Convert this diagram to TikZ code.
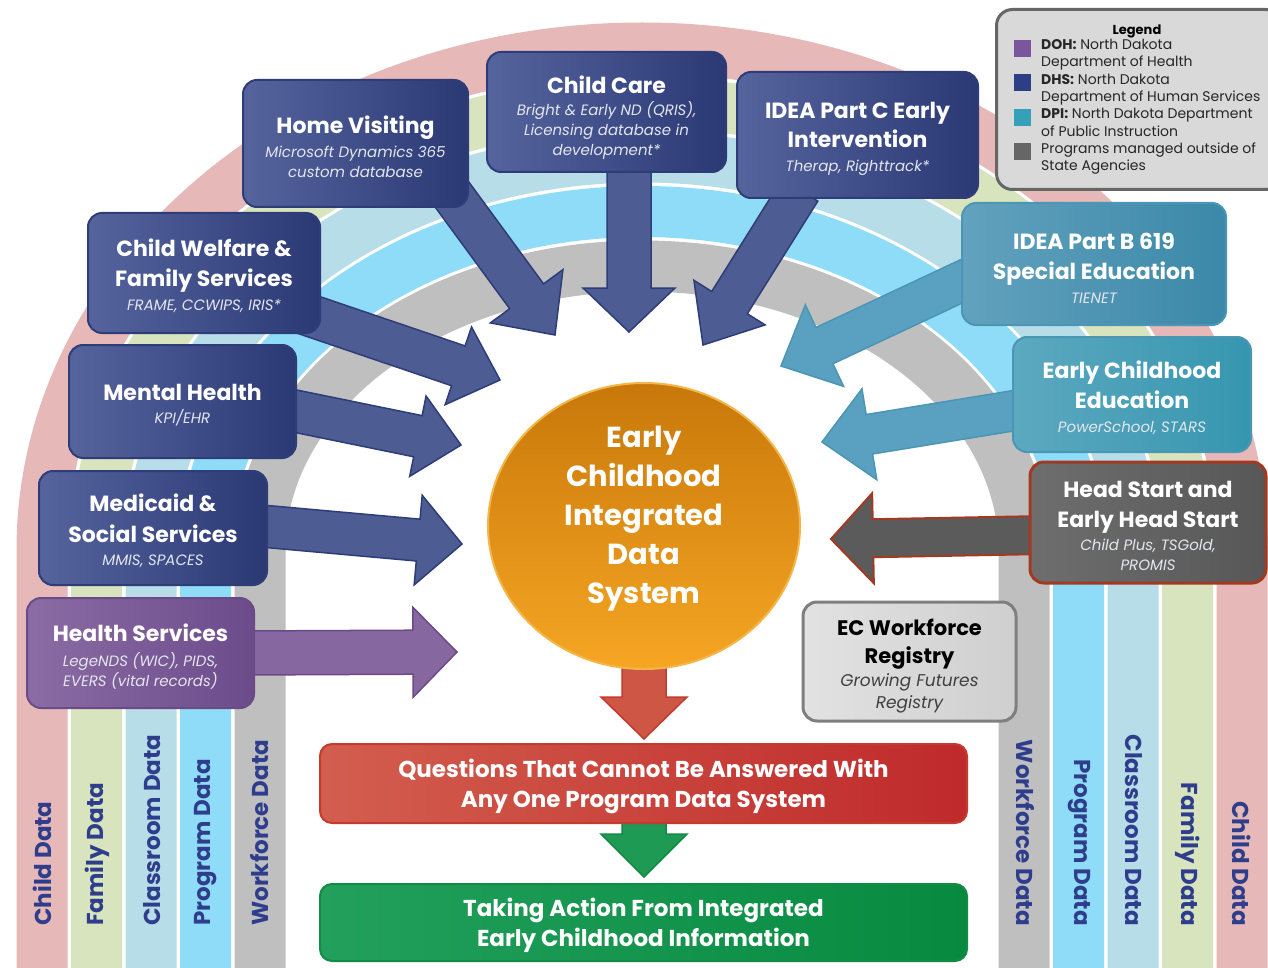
\documentclass[tikz,border=0pt]{standalone}
\usepackage{fontspec}
\setmainfont{Poppins}
\usetikzlibrary{calc,shapes.geometric}
\definecolor{navyL}{HTML}{56649E}
\definecolor{navyR}{HTML}{2A3974}
\definecolor{navyD}{HTML}{2E3C78}
\definecolor{navyA}{HTML}{4E5C94}
\definecolor{tealL}{HTML}{62A2BE}
\definecolor{tealR}{HTML}{3B88A8}
\definecolor{teal2L}{HTML}{5CA9C0}
\definecolor{teal2R}{HTML}{3696AF}
\definecolor{tealD}{HTML}{4B96B4}
\definecolor{tealA}{HTML}{5AA0C0}
\definecolor{purL}{HTML}{8B6CA4}
\definecolor{purR}{HTML}{6C4B8B}
\definecolor{purA}{HTML}{8767A0}
\definecolor{purD}{HTML}{6A4B88}
\definecolor{greyL}{HTML}{6E6E6E}
\definecolor{greyR}{HTML}{575757}
\definecolor{hsborder}{HTML}{A23A22}
\definecolor{hsA}{HTML}{5B5B5B}
\definecolor{lgreyL}{HTML}{E2E2E2}
\definecolor{lgreyR}{HTML}{CFCFCF}
\definecolor{lgreyD}{HTML}{7F7F7F}
\definecolor{orT}{HTML}{C8780A}
\definecolor{orB}{HTML}{F6A623}
\definecolor{orD}{HTML}{F2B64A}
\definecolor{redL}{HTML}{D35E4E}
\definecolor{redR}{HTML}{BF2A2B}
\definecolor{redA}{HTML}{CD5645}
\definecolor{redD}{HTML}{C43A2E}
\definecolor{grnL}{HTML}{22A05C}
\definecolor{grnR}{HTML}{078A40}
\definecolor{grnA}{HTML}{1E9A55}
\definecolor{grnD}{HTML}{138A45}
\definecolor{pinkb}{HTML}{E6B8B7}
\definecolor{greenb}{HTML}{D8E4BE}
\definecolor{lblueb}{HTML}{B7DDE8}
\definecolor{cyanb}{HTML}{8FDCF9}
\definecolor{greyb}{HTML}{BFBFBF}
\definecolor{lbltxt}{HTML}{2F3E8C}
\definecolor{subw}{HTML}{E4E6EE}
\definecolor{legfill}{HTML}{D9D9D9}
\definecolor{legdraw}{HTML}{666666}
\definecolor{dohc}{HTML}{7B569C}
\definecolor{dhsc}{HTML}{2D3E86}
\definecolor{dpic}{HTML}{36A0B9}
\definecolor{othc}{HTML}{666666}
\newcommand\bxup{\rule{0pt}{24pt}}
\newcommand\bxT{\fontsize{22}{20}\selectfont\bfseries\bxup}
\newcommand\bxTT{\fontsize{22}{20}\selectfont\bfseries}
\newcommand\bxS{\fontsize{15}{20}\selectfont\itshape\color{subw}}
\newcommand\ecT{\fontsize{21}{22}\selectfont\bfseries}
\newcommand\ecS{\fontsize{17}{22}\selectfont\itshape\color{black!75}}
\newcommand\lgT{\fontsize{14}{17.3}\selectfont}
\newcommand\blockarr[6]{%
  \coordinate (tmpH) at ($(#3)!#6!(#2)$);
  \filldraw[#1] ($(#2)!#4!90:(#3)$) -- ($(tmpH)!#4!90:(#3)$) -- ($(tmpH)!#5!90:(#3)$) -- (#3)
    -- ($(tmpH)!#5!-90:(#3)$) -- ($(tmpH)!#4!-90:(#3)$) -- ($(#2)!#4!-90:(#3)$) -- cycle;}
\tikzset{
  band/.style={line width=51pt},
  bandlbl/.style={text=lbltxt, font=\fontsize{23}{26}\selectfont\bfseries, inner sep=0pt},
  box/.style={rounded corners=14pt, line width=2pt, inner sep=0pt, align=center,
    font={\fontsize{15}{20}\selectfont\lineskiplimit=-50pt}},
  navybox/.style={box, draw=navyD, left color=navyL, right color=navyR, text=white},
  tealbox/.style={box, draw=tealD, left color=tealL, right color=tealR, text=white},
  teal2box/.style={box, draw=tealD, left color=teal2L, right color=teal2R, text=white},
  purbox/.style={box, draw=purD, left color=purL, right color=purR, text=white},
  hsbox/.style={box, draw=hsborder, line width=3pt, left color=greyL, right color=greyR, text=white},
  ecwbox/.style={box, draw=lgreyD, line width=3pt, left color=lgreyL, right color=lgreyR, text=black,
    font={\fontsize{17}{22}\selectfont\lineskiplimit=-50pt}},
  navyarr/.style={fill=navyA, draw=navyD, line width=1.5pt, line join=miter},
  tealarr/.style={fill=tealA, draw=tealD, line width=1.5pt},
  purarr/.style={fill=purA, draw=purD, line width=1.5pt},
  hsarr/.style={fill=hsA, draw=hsborder, line width=2pt},
  redarr/.style={fill=redA, draw=redD, line width=1.5pt},
  grnarr/.style={fill=grnA, draw=grnD, line width=1.5pt},
  wide/.style={box, rounded corners=12pt, line width=2pt, text=white, font=\fontsize{23}{30}\selectfont\bfseries},
}
\begin{document}
\begin{tikzpicture}[x=1pt,y=-1pt]
\useasboundingbox (0,0) rectangle (1268,968);
\fill[white] (0,0) rectangle (1268,968);
% rainbow bands
\foreach \k/\col in {0/pinkb,1/greenb,2/lblueb,3/cyanb,4/greyb} {
  \pgfmathsetmacro\ra{600-54.5*\k}
  \pgfmathsetmacro\rb{502-54.5*\k}
  \draw[band, draw=\col] (642-\ra,975) -- (642-\ra,550)
     arc[start angle=180, end angle=0, x radius=\ra pt, y radius=\rb pt] -- (642+\ra,975);
}
% band labels
\node[bandlbl, rotate=90, anchor=west] (l1) at (42,926) {Child Data};
\node[bandlbl, rotate=90, anchor=west] (l2) at (97,926) {Family Data};
\node[bandlbl, rotate=90, anchor=west] (l3) at (152,926) {Classroom Data};
\node[bandlbl, rotate=90, anchor=west] (l4) at (206,926) {Program Data};
\node[bandlbl, rotate=90, anchor=west] (l5) at (260,926) {Workforce Data};
\node[bandlbl, rotate=-90, anchor=east] (r5) at (1025,926) {Workforce Data};
\node[bandlbl, rotate=-90, anchor=east] (r4) at (1079,926) {Program Data};
\node[bandlbl, rotate=-90, anchor=east] (r3) at (1134,926) {Classroom Data};
\node[bandlbl, rotate=-90, anchor=east] (r2) at (1188,926) {Family Data};
\node[bandlbl, rotate=-90, anchor=east] (r1) at (1242,926) {Child Data};
% arrow anchor coordinates
\coordinate (hvA) at (445,185);  \coordinate (hvB) at (555,335);
\coordinate (ccA) at (629,160);  \coordinate (ccB) at (629,332);
\coordinate (icA) at (800,190);  \coordinate (icB) at (703,345);
\coordinate (cwA) at (300,312);  \coordinate (cwB) at (500,380);
\coordinate (mhA) at (280,408);  \coordinate (mhB) at (461,445);
\coordinate (mdA) at (250,525);  \coordinate (mdB) at (462,544);
\coordinate (hsA) at (240,653);  \coordinate (hsB) at (457,652);
\coordinate (hdA) at (1045,535); \coordinate (hdB) at (831,539);
\coordinate (ecA) at (1030,408); \coordinate (ecB) at (822,442);
\coordinate (ibA) at (975,275);  \coordinate (ibB) at (781,366);
\coordinate (rdA) at (644,650);  \coordinate (rdB) at (644,739);
\coordinate (gnA) at (644,815);  \coordinate (gnB) at (644,877);
\blockarr{navyarr}{hvA}{hvB}{21pt}{45pt}{48pt}
\blockarr{navyarr}{ccA}{ccB}{22pt}{46pt}{44pt}
\blockarr{navyarr}{icA}{icB}{21pt}{42pt}{50pt}
\blockarr{navyarr}{cwA}{cwB}{21pt}{41pt}{44pt}
\blockarr{navyarr}{mhA}{mhB}{21pt}{41pt}{44pt}
\blockarr{navyarr}{mdA}{mdB}{21pt}{45pt}{44pt}
\blockarr{purarr}{hsA}{hsB}{22pt}{45pt}{44pt}
\blockarr{hsarr}{hdA}{hdB}{19pt}{45pt}{42pt}
\blockarr{tealarr}{ecA}{ecB}{20pt}{46pt}{48pt}
\blockarr{tealarr}{ibA}{ibB}{20pt}{45pt}{48pt}
\blockarr{redarr}{rdA}{rdB}{22pt}{43pt}{42pt}
\blockarr{grnarr}{gnA}{gnB}{22pt}{43pt}{43pt}
% boxes
\node[navybox, minimum width=225pt, minimum height=127pt] (hv) at (355.5,143.5)
  {\bxT Home Visiting\\[4pt]\bxS Microsoft Dynamics 365\\\bxS custom database};
\node[navybox, minimum width=239pt, minimum height=120pt] (cc) at (606.5,112)
  {\fontsize{22}{20}\selectfont\bfseries\rule{0pt}{28pt}Child Care\\[2pt]\bxS Bright \& Early ND (QRIS),\\\bxS Licensing database in\\\bxS development*};
\node[navybox, minimum width=241pt, minimum height=126pt] (ic) at (857.5,135)
  {\bxT IDEA Part C Early\\[9pt]\bxTT Intervention\\[4pt]\bxS Therap, Righttrack*};
\node[navybox, minimum width=232pt, minimum height=120pt] (cw) at (204,273)
  {\bxT Child Welfare \&\\[10pt]\bxTT Family Services\\[4pt]\bxS FRAME, CCWIPS, IRIS*};
\node[navybox, minimum width=227pt, minimum height=113pt] (mh) at (182.5,401.5)
  {\bxT Mental Health\\[3pt]\bxS KPI/EHR};
\node[navybox, minimum width=228pt, minimum height=114pt] (md) at (153,528)
  {\bxT Medicaid \&\\[11pt]\bxTT Social Services\\[3pt]\bxS MMIS, SPACES};
\node[purbox, minimum width=227pt, minimum height=110pt] (hs) at (140.5,653)
  {\bxT Health Services\\[5pt]\bxS LegeNDS (WIC), PIDS,\\\bxS EVERS (vital records)};
\node[tealbox, minimum width=264pt, minimum height=122pt] (ib) at (1094,264)
  {\bxT IDEA Part B 619\\[10pt]\bxTT Special Education\\[4pt]\bxS TIENET};
\node[teal2box, minimum width=238pt, minimum height=115pt] (ec) at (1132,394.5)
  {\bxT Early Childhood\\[10pt]\bxTT Education\\[4pt]\bxS PowerSchool, STARS};
\node[hsbox, minimum width=236pt, minimum height=121pt] (hd) at (1148,522.5)
  {\bxT Head Start and\\[10pt]\bxTT Early Head Start\\[3pt]\bxS Child Plus, TSGold,\\\bxS PROMIS};
\node[ecwbox, minimum width=213pt, minimum height=119pt] (ecw) at (909.5,661.5)
  {\ecT\rule{0pt}{25pt}EC Workforce\\[6pt]\ecT Registry\\[1pt]\ecS Growing Futures\\\ecS Registry};
% central system
\node[ellipse, minimum width=312pt, minimum height=286pt, top color=orT, bottom color=orB,
  draw=orD, line width=2pt] (ecids) at (644,526) {};
\node[text=white, align=center, font=\fontsize{29}{39}\selectfont\bfseries] (ecidst) at (644,518.5)
  {Early\\Childhood\\Integrated\\Data\\System};
% outcome boxes
\node[wide, draw=redD, left color=redL, right color=redR, minimum width=647pt, minimum height=79pt] (q) at (643.5,783.5)
  {\rule{0pt}{25pt}Questions That Cannot Be Answered With\\Any One Program Data System};
\node[wide, draw=grnD, left color=grnL, right color=grnR, minimum width=647pt, minimum height=77pt] (t) at (643.5,922.5)
  {\rule{0pt}{25pt}Taking Action From Integrated\\Early Childhood Information};
% legend
\node[draw=legdraw, fill=legfill, line width=3pt, rounded corners=16pt, minimum width=285pt, minimum height=180pt,
  anchor=north west] (leg) at (995,8) {};
\node[font=\fontsize{13}{15}\selectfont\bfseries] (legt) at (1137,31) {Legend};
\fill[dohc] (1014,40) rectangle (1031,57);
\fill[dhsc] (1014,74) rectangle (1031,91);
\fill[dpic] (1014,109) rectangle (1031,126);
\fill[othc] (1014,143) rectangle (1031,160);
\node[anchor=north west, align=left, inner sep=0pt, text=black!85, font=\lgT] (legx) at (1041,39)
  {\lgT\textbf{DOH:} North Dakota\\\lgT Department of Health\\\lgT\textbf{DHS:} North Dakota\\\lgT Department of Human Services\\
   \lgT\textbf{DPI:} North Dakota Department\\\lgT of Public Instruction\\\lgT Programs managed outside of\\\lgT State Agencies};
\end{tikzpicture}
\end{document}
